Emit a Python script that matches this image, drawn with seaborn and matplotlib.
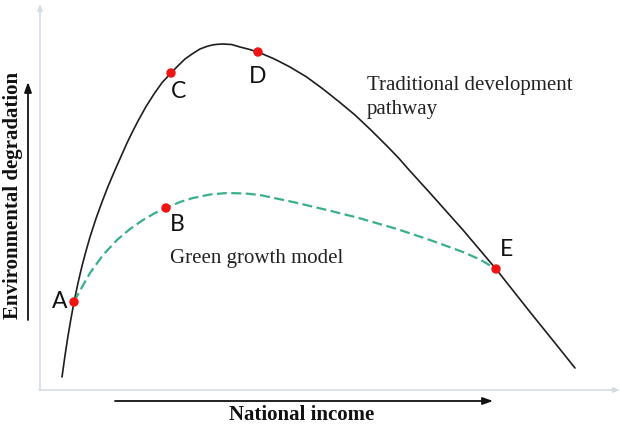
import matplotlib
matplotlib.use("Agg")
import matplotlib.pyplot as plt
import seaborn as sns
import pandas as pd

# Traditional development pathway (inverted-U curve)
trad_income = [22, 25, 28, 31, 34, 38, 42, 46, 50, 56, 62, 68, 75, 81, 87, 92.5, 98,
               106, 114, 122, 131, 138, 145, 152.5, 160, 166, 172, 177.5, 183,
               191.5, 200, 209, 218, 234, 250, 266.5, 283, 299, 315, 331, 347,
               358.5, 370, 390, 423, 456, 490, 515, 535]
trad_degradation = [13, 34.5, 54, 71.5, 88, 107, 124, 139, 153, 171.5, 188, 203.5, 220,
                    233.5, 247, 258.3, 269, 283.4, 296, 307.3, 317, 324.2, 331, 336.3,
                    341, 343.3, 345, 345.7, 346, 345.5, 343, 340.7, 338, 331.2, 323,
                    313.1, 301, 288.3, 275, 259.9, 244, 232.1, 219, 197, 160, 121, 78,
                    47, 22]

# Green growth model (flatter path between A and E)
green_income = [34, 38, 42, 50, 63, 77, 90, 103, 115, 126, 140, 153, 170, 187,
                205, 220, 253, 287, 317, 357, 390, 423, 440, 456]
green_degradation = [88, 95.8, 103, 117, 135, 150, 161, 170, 177, 182, 188, 192, 195.5,
                     197, 196.5, 195, 188, 180, 172.5, 161, 150, 138, 130.5, 121]

# Named stages
point_labels = ["A", "B", "C", "D", "E"]
point_income = [34, 126, 131, 218, 456]
point_degradation = [88, 182, 317, 338, 121]

trad = pd.DataFrame({"income": trad_income, "degradation": trad_degradation})
green = pd.DataFrame({"income": green_income, "degradation": green_degradation})
points = pd.DataFrame({"label": point_labels, "income": point_income,
                       "degradation": point_degradation})

sns.set_theme(style="white")
plt.rcParams["font.family"] = ["Liberation Serif", "DejaVu Serif"]

fig = plt.figure(figsize=(6.2, 4.28), dpi=100)
ax = fig.add_axes([0, 0, 1, 1])
ax.set_xlim(-40, 580)
ax.set_ylim(-38, 390)
ax.axis("off")

# light axis lines with small heads
axis_col = "#d3dbe5"
ax.annotate("", xy=(0, 386), xytext=(0, 0),
            arrowprops=dict(arrowstyle="-|>,head_length=0.3,head_width=0.12",
                            color=axis_col, lw=1.2, shrinkA=0, shrinkB=0))
ax.annotate("", xy=(580, 0), xytext=(-1, 0),
            arrowprops=dict(arrowstyle="-|>,head_length=0.3,head_width=0.12",
                            color=axis_col, lw=1.2, shrinkA=0, shrinkB=0))

sns.lineplot(data=trad, x="income", y="degradation", sort=False, estimator=None,
             color="#1e1e1e", lw=1.2, ax=ax)
sns.lineplot(data=green, x="income", y="degradation", sort=False, estimator=None,
             color="#3baf8a", lw=1.6, linestyle=(0, (4.5, 2.0)), ax=ax)
sns.scatterplot(data=points, x="income", y="degradation", color="#f01414",
                s=46, edgecolor="none", zorder=5, ax=ax)

# stage letters
offsets = {"A": (-14, 0), "B": (11, -16), "C": (7, -18), "D": (0, -24), "E": (11, 20)}
for lab, xi, yi in zip(point_labels, point_income, point_degradation):
    dx, dy = offsets[lab]
    ax.annotate(lab, (xi, yi), xytext=(dx, dy), textcoords="offset pixels",
                ha="center", va="center", fontsize=16.5, color="#111111",
                family=["Lato", "DejaVu Sans"])

ax.text(327, 314, "Traditional development\npathway", ha="left", va="top",
        fontsize=15, color="#222222", linespacing=1.35)
ax.text(130, 127, "Green growth model", ha="left", va="baseline",
        fontsize=15, color="#222222")

# axis titles with arrows
ax.annotate("", xy=(-12, 308), xytext=(-12, 70),
            arrowprops=dict(arrowstyle="-|>,head_length=0.5,head_width=0.18",
                            color="#111111", lw=1.3, shrinkA=0, shrinkB=0))
ax.text(-27, 195, "Environmental degradation", rotation=90, ha="center",
        va="center", fontsize=15, fontweight="bold", color="#111111")
ax.annotate("", xy=(453, -11), xytext=(75, -11),
            arrowprops=dict(arrowstyle="-|>,head_length=0.5,head_width=0.18",
                            color="#111111", lw=1.3, shrinkA=0, shrinkB=0))
ax.text(262, -25, "National income", ha="center", va="center", fontsize=15,
        fontweight="bold", color="#111111")

fig.savefig("out.png", dpi=100)
